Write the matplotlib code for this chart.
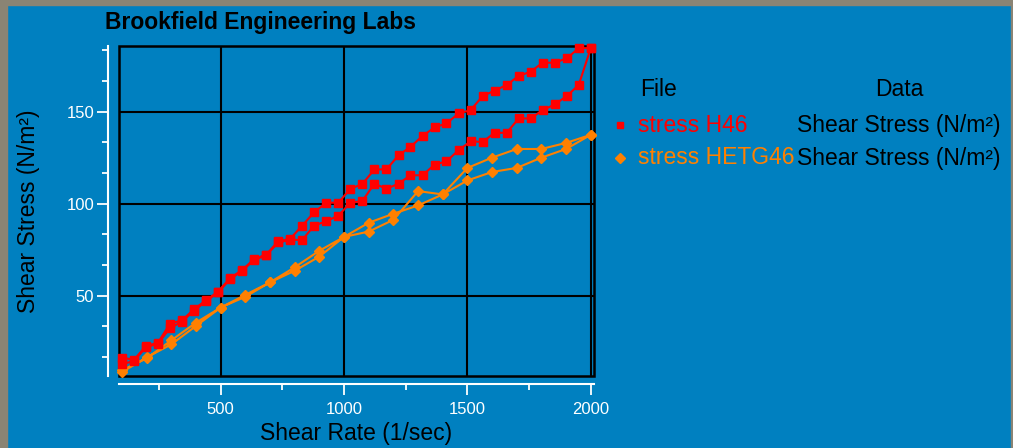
import matplotlib
matplotlib.use("Agg")
import matplotlib.pyplot as plt
from matplotlib.ticker import MultipleLocator, FixedLocator
from matplotlib.patches import Rectangle
from matplotlib.lines import Line2D

plt.rcParams['font.family'] = ['Liberation Sans', 'DejaVu Sans']

# ---- data ----
rate_h46 = [100, 149, 197, 246, 295, 344, 392, 441, 490, 538,
            587, 636, 685, 733, 782, 831, 879, 928, 977, 1026,
            1074, 1123, 1172, 1221, 1269, 1318, 1367, 1415, 1464, 1513,
            1562, 1610, 1659, 1708, 1756, 1805, 1854, 1903, 1951, 2000]
stress_h46_up = [16.4, 15.2, 22.7, 24.5, 34.9, 36.7, 42.7, 47.6, 52.3, 59.6,
                 64.0, 70.0, 72.4, 79.6, 81.0, 88.2, 95.4, 100.6, 100.6, 108.2,
                 110.7, 118.7, 118.7, 126.4, 130.9, 136.9, 141.5, 143.7, 149.1, 150.9,
                 158.6, 161.5, 164.6, 169.5, 171.8, 176.7, 176.7, 179.1, 184.6, 184.6]
stress_h46_down = [12.8, 14.6, 22.0, 24.0, 32.5, 36.0, 42.0, 47.0, 52.0, 59.0,
                   63.6, 69.5, 72.0, 79.0, 80.4, 80.4, 88.2, 90.5, 93.6, 100.6,
                   101.5, 110.9, 108.2, 110.9, 115.5, 115.5, 121.3, 123.1, 129.1, 134.0,
                   133.6, 138.6, 138.6, 146.4, 146.4, 150.9, 154.0, 158.6, 164.6, 184.6]

rate_hetg46 = [100, 200, 300, 400, 500, 600, 700, 800, 900, 1000,
               1100, 1200, 1300, 1400, 1500, 1600, 1700, 1800, 1900, 2000]
stress_hetg46_up = [9.5, 16.0, 25.8, 35.4, 43.6, 50.5, 57.3, 65.5, 74.5, 82.0,
                    84.9, 91.3, 106.9, 105.1, 119.5, 125.1, 129.8, 129.8, 133.1, 137.5]
stress_hetg46_down = [8.5, 16.5, 23.6, 33.6, 43.6, 49.5, 57.3, 63.6, 71.3, 82.0,
                      89.7, 94.6, 99.1, 105.1, 112.7, 117.3, 119.5, 125.1, 129.8, 137.5]

series_names = ["stress H46", "stress HETG46"]
data_name = "Shear Stress (N/m²)"
title = "Brookfield Engineering Labs"
xlabel = "Shear Rate (1/sec)"
ylabel = "Shear Stress (N/m²)"
x_major = [500, 1000, 1500, 2000]
y_major = [50, 100, 150]

BG = '#0080C0'
RED = '#FF0000'
ORANGE = '#FF8000'
BORDER = '#8A8474'

W, H = 1013, 448
fig = plt.figure(figsize=(W / 100, H / 100), dpi=100)
fig.patch.set_facecolor(BG)

# window border
fig.patches.append(Rectangle((0, 0), 7 / W, 1, transform=fig.transFigure, color=BORDER, zorder=0))
fig.patches.append(Rectangle((0, 1 - 5 / H), 1, 5 / H, transform=fig.transFigure, color=BORDER, zorder=0))
fig.patches.append(Rectangle((1 - 2 / W, 0), 2 / W, 1, transform=fig.transFigure, color=BORDER, zorder=0))

L, R, T, B = 119, 594, 46.5, 376
ax = fig.add_axes([L / W, 1 - B / H, (R - L) / W, (B - T) / H])
ax.set_facecolor(BG)

x_all_h = rate_h46 + rate_h46[::-1]
y_all_h = stress_h46_up + stress_h46_down[::-1]
x_all_o = rate_hetg46 + rate_hetg46[::-1]
y_all_o = stress_hetg46_up + stress_hetg46_down[::-1]

ax.plot(x_all_h, y_all_h, color=RED, lw=1.5, marker='s', ms=5.5, mec=RED, mfc=RED, zorder=4, clip_on=False)
ax.plot(x_all_o, y_all_o, color=ORANGE, lw=1.5, marker='D', ms=5, mec=ORANGE, mfc=ORANGE, zorder=3, clip_on=False)

ax.set_xlim(88, 2013)
ax.set_ylim(6.4, 185.5)

ax.xaxis.set_major_locator(FixedLocator(x_major))
ax.xaxis.set_minor_locator(MultipleLocator(250))
ax.yaxis.set_major_locator(FixedLocator(y_major))
ax.yaxis.set_minor_locator(MultipleLocator(50 / 3))

ax.grid(True, which='major', color='black', lw=1.5, zorder=1)
ax.set_axisbelow(True)

# black frame
ax.add_patch(Rectangle((0, 0), 1, 1, transform=ax.transAxes, fill=False, ec='black', lw=1.8, zorder=2, clip_on=False))
for s in ['top', 'right']:
    ax.spines[s].set_visible(False)
ax.spines['left'].set_position(('outward', 8))
ax.spines['bottom'].set_position(('outward', 6))
ax.spines['left'].set_color('white')
ax.spines['bottom'].set_color('white')
ax.spines['left'].set_linewidth(1.5)
ax.spines['bottom'].set_linewidth(1.5)

ax.tick_params(axis='both', which='both', colors='white', labelcolor='white', width=1.3)
ax.tick_params(axis='both', which='major', length=8, labelsize=12)
ax.tick_params(axis='both', which='minor', length=4.5)
ax.tick_params(axis='x', which='major', pad=5)
ax.tick_params(axis='y', which='major', pad=2)

fig.text(356 / W, 1 - 433 / H, xlabel, fontsize=16.5, color='black', ha='center', va='center')
fig.text(28 / W, 1 - 211 / H, ylabel, fontsize=16.5, color='black', ha='center', va='center', rotation=90)
fig.text(105 / W, 1 - 22 / H, title, fontsize=16.5, fontweight='bold', color='black', ha='left', va='center')

# legend (custom table)
fig.text(640 / W, 1 - 89 / H, "File", fontsize=16.5, color='black', ha='left', va='center')
fig.text(899 / W, 1 - 89 / H, "Data", fontsize=16.5, color='black', ha='center', va='center')
rows_y = [125, 158]
colors = [RED, ORANGE]
markers = ['s', 'D']
for name, cy, c, m in zip(series_names, rows_y, colors, markers):
    fig.add_artist(Line2D([620 / W], [1 - cy / H], transform=fig.transFigure, marker=m, ms=5, color=c, ls='none'))
    fig.text(638 / W, 1 - cy / H, name, fontsize=16.5, color=c, ha='left', va='center')
    fig.text(797 / W, 1 - cy / H, data_name, fontsize=16.5, color='black', ha='left', va='center')

fig.savefig("out.png", dpi=100, facecolor=fig.get_facecolor())
